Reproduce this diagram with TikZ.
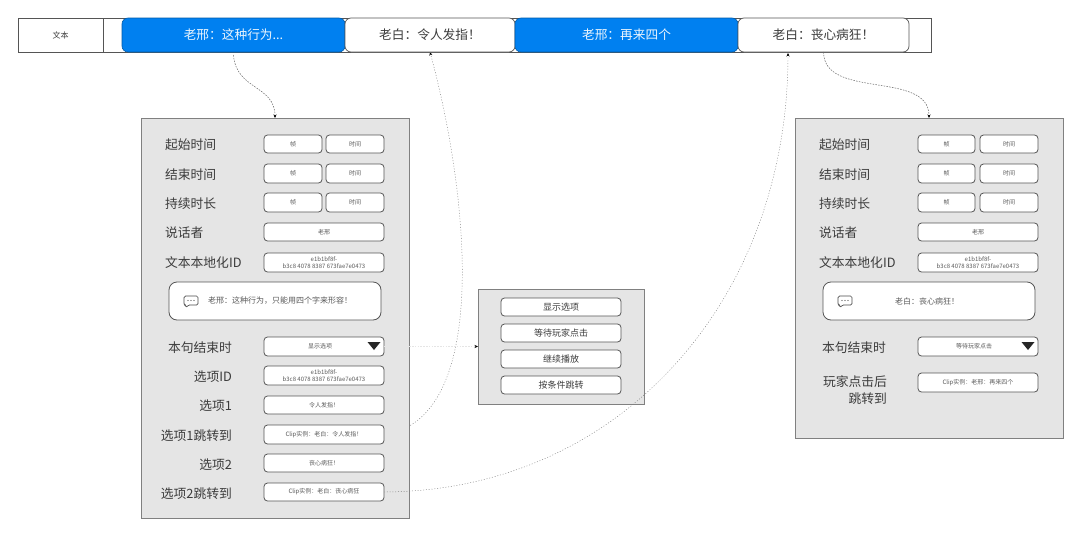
\documentclass[tikz,border=0pt]{standalone}
\usepackage{fontspec}
\setmainfont{Noto Sans CJK SC}
\usetikzlibrary{arrows.meta}
\pgfdeclarelayer{back}
\pgfsetlayers{back,main}
\definecolor{txt}{HTML}{3C3C3C}
\definecolor{soft}{HTML}{5A5A5A}
\definecolor{edge}{HTML}{555555}
\definecolor{blue1}{HTML}{0080F0}
\newcommand{\CO}{\symbol{"FF1A}}
\newcommand{\EX}{\symbol{"FF01}}
\newcommand{\CM}{\symbol{"FF0C}}
\tikzset{
  rect/.style={inner sep=0pt,outer sep=0pt,align=center,text=txt},
  barcell/.style={rect,draw=edge,line width=0.8pt,fill=white},
  bluecell/.style={rect,draw=blue1!70!black,line width=0.6pt,fill=blue1,rounded corners=6pt,text=white!92!blue1,font=\fontsize{12.7}{14}\selectfont},
  whitecell/.style={rect,draw=edge,line width=0.7pt,fill=white,rounded corners=6pt,font=\fontsize{12.7}{14}\selectfont},
  panel/.style={rect,draw=black!50,line width=0.9pt,fill=black!10},
  fieldbox/.style={rect,draw=edge,line width=0.8pt,fill=white,rounded corners=3.5pt,text=soft,font=\fontsize{6}{7}\selectfont},
  optbox/.style={fieldbox,text=txt,font=\fontsize{9}{11}\selectfont},
  bubble/.style={rect,draw=edge,line width=0.8pt,fill=white,rounded corners=8pt},
  lbl/.style={inner sep=0pt,outer sep=0pt,text=txt,font=\fontsize{12.8}{17}\selectfont},
  lblL/.style={lbl,anchor=west},
  lblR/.style={lbl,anchor=east,align=right},
  bubtxt/.style={inner sep=0pt,text=soft,font=\fontsize{8}{10}\selectfont},
  link/.style={draw=black!60,line width=0.5pt,dash pattern=on 1.6pt off 1.2pt,-{Stealth[length=3.5pt,width=3pt,black]}},
  dotlink/.style={draw=black!50,line width=0.45pt,dash pattern=on 1pt off 1.8pt,-{Stealth[length=3.5pt,width=3pt,black]}},
  faint/.style={draw=black!10,line width=0.4pt,dash pattern=on 1.6pt off 1.2pt,-{Stealth[length=3.5pt,width=3pt,black]}},
  trifill/.style={fill=black!85,draw=none},
  iconline/.style={draw=black!70,line width=0.7pt,rounded corners=1.5pt,fill=white}
}
% name, style, x1, x2, y1, y2, text
\newcommand{\Bx}[7]{\node[#2,minimum width={(#4-#3)*1pt},minimum height={(#6-#5)*1pt}] (#1) at ({(#3+#4)/2},{(#5+#6)/2}) {#7};}
\newcommand{\Ico}[2]{%
  \draw[iconline] (#1-7,#2-5) -- (#1+7,#2-5) -- (#1+7,#2+4) -- (#1-3,#2+4) -- (#1-5,#2+7) -- (#1-5,#2+4) -- (#1-7,#2+4) -- cycle;
  \fill[black!70] (#1-3,#2-0.5) circle (0.7) (#1,#2-0.5) circle (0.7) (#1+3,#2-0.5) circle (0.7);}
\newcommand{\Tri}[2]{\path[trifill] (#1-6.5,#2-4) -- (#1+6.5,#2-4) -- (#1,#2+4) -- cycle;}
\begin{document}
\begin{tikzpicture}[x=1pt,y=-1pt]
\useasboundingbox (0,0) rectangle (1080,536);
% timeline
\Bx{bar}{barcell}{18}{931}{18}{52}{}
\Bx{head}{barcell,font=\fontsize{8}{10}\selectfont}{18}{103}{18}{52}{文本}
\Bx{c1}{bluecell}{122}{345}{18}{52}{老邢\CO 这种行为...}
\Bx{c2}{whitecell}{345}{515}{18}{52}{老白\CO 令人发指\EX}
\Bx{c3}{bluecell}{515}{738}{18}{52}{老邢\CO 再来四个}
\Bx{c4}{whitecell}{738}{909}{18}{52}{老白\CO 丧心病狂\EX}
\coordinate (c4in) at (788,53);
% left panel
\Bx{pa}{panel}{141}{409}{118}{518}{}
\node[lblL] (la1) at (165,145) {起始时间};
\node[lblL] (la2) at (165,174.5) {结束时间};
\node[lblL] (la3) at (165,204) {持续时长};
\node[lblL] (la4) at (165,233) {说话者};
\node[lblL] (la5) at (165,263) {文本本地化ID};
\Bx{fa1}{fieldbox}{264}{322}{135}{153}{帧}
\Bx{fa2}{fieldbox}{326}{384}{135}{153}{时间}
\Bx{fa3}{fieldbox}{264}{322}{164}{183}{帧}
\Bx{fa4}{fieldbox}{326}{384}{164}{183}{时间}
\Bx{fa5}{fieldbox}{264}{322}{193}{212}{帧}
\Bx{fa6}{fieldbox}{326}{384}{193}{212}{时间}
\Bx{fa7}{fieldbox}{264}{384}{223}{241}{老邢}
\Bx{fa8}{fieldbox}{264}{384}{253}{272}{e1b1bf8f-\\b3c8 4078 8387 673fae7e0473}
\Bx{ba}{bubble}{169}{381}{282}{320}{}
\Ico{191}{301}
\node[bubtxt,anchor=west] (bta) at (208,301) {老邢\CO 这种行为\CM 只能用四个字来形容\EX};
\node[lblR] (la6) at (232,348) {本句结束时};
\node[lblR] (la7) at (232,377) {选项ID};
\node[lblR] (la8) at (232,406) {选项1};
\node[lblR] (la9) at (232,436) {选项1跳转到};
\node[lblR] (la10) at (232,465) {选项2};
\node[lblR] (la11) at (232,494) {选项2跳转到};
\Bx{da}{fieldbox}{264}{384}{337}{356}{\hspace*{-8pt}显示选项}
\Tri{374}{346}
\Bx{fa9}{fieldbox}{264}{384}{366}{385}{e1b1bf8f-\\b3c8 4078 8387 673fae7e0473}
\Bx{fa10}{fieldbox}{264}{384}{396}{414}{令人发指\EX}
\Bx{fa11}{fieldbox}{264}{384}{425}{444}{Clip实例\CO 老白\CO 令人发指\EX}
\Bx{fa12}{fieldbox}{264}{384}{454}{472}{丧心病狂\EX}
\Bx{fa13}{fieldbox}{264}{384}{483}{501}{Clip实例\CO 老白\CO 丧心病狂}
% middle panel
\Bx{pm}{panel}{478}{644}{289}{404}{}
\Bx{m1}{optbox}{501}{621}{298}{316}{显示选项}
\Bx{m2}{optbox}{501}{621}{324}{342}{等待玩家点击}
\Bx{m3}{optbox}{501}{621}{350}{368}{继续播放}
\Bx{m4}{optbox}{501}{621}{376}{394}{按条件跳转}
% right panel
\Bx{pb}{panel}{795}{1063}{118}{438}{}
\node[lblL] (lb1) at (819,145) {起始时间};
\node[lblL] (lb2) at (819,174.5) {结束时间};
\node[lblL] (lb3) at (819,204) {持续时长};
\node[lblL] (lb4) at (819,233) {说话者};
\node[lblL] (lb5) at (819,263) {文本本地化ID};
\Bx{fb1}{fieldbox}{918}{975}{135}{153}{帧}
\Bx{fb2}{fieldbox}{980}{1038}{135}{153}{时间}
\Bx{fb3}{fieldbox}{918}{975}{164}{183}{帧}
\Bx{fb4}{fieldbox}{980}{1038}{164}{183}{时间}
\Bx{fb5}{fieldbox}{918}{975}{193}{212}{帧}
\Bx{fb6}{fieldbox}{980}{1038}{193}{212}{时间}
\Bx{fb7}{fieldbox}{918}{1038}{223}{241}{老邢}
\Bx{fb8}{fieldbox}{918}{1038}{253}{272}{e1b1bf8f-\\b3c8 4078 8387 673fae7e0473}
\Bx{bb}{bubble}{823}{1035}{282}{320}{}
\Ico{845}{301}
\node[bubtxt] (btb) at (927,301) {老白\CO 丧心病狂\EX};
\node[lblR] (lb6) at (886,348) {本句结束时};
\node[lblR] (lb7) at (887,390.5) {玩家点击后\\跳转到};
\Bx{db}{fieldbox}{918}{1038}{337}{356}{\hspace*{-8pt}等待玩家点击}
\Tri{1028}{346}
\Bx{fb9}{fieldbox}{918}{1038}{373}{392}{Clip实例\CO 老邢\CO 再来四个}
% connectors
\begin{pgfonlayer}{back}
\draw[dotlink] (fa11.east) .. controls (490,420) and (470,200) .. (c2.south);
\end{pgfonlayer}
\draw[link] (c1.south) ++(0,3) .. controls (236,90) and (275,85) .. (pa.north);
\draw[link] (c4.south) .. controls (824,100) and (929,70) .. (pb.north);
\draw[dotlink] (fa13.east) .. controls (620,491) and (788,300) .. (c4in);
\draw[faint] (da.east) -- (pm.west);
\end{tikzpicture}
\end{document}
